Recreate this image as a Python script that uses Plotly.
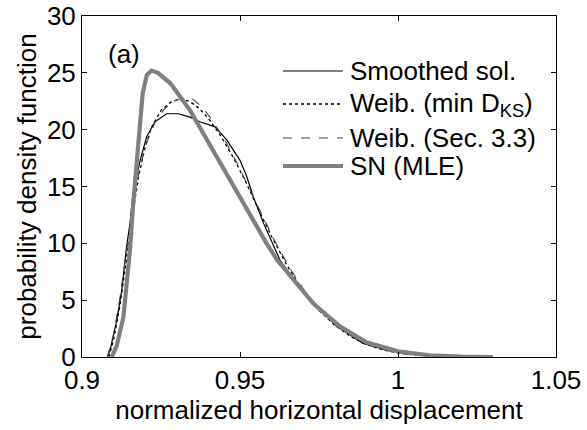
import plotly.graph_objects as go

# ---- data ----
smooth_x = [0.9080, 0.9089, 0.9110, 0.9126, 0.9141, 0.9152, 0.9162, 0.9173, 0.9184, 0.9205,
            0.9231, 0.9268, 0.9305, 0.9342, 0.9373, 0.9421, 0.9458, 0.9500, 0.9521, 0.9542,
            0.9574, 0.9627, 0.9680, 0.9732, 0.9806, 0.9890, 0.9964, 1.0006, 1.0110, 1.0200, 1.0300]
smooth_y = [0.0, 0.6, 3.25, 5.9, 9.7, 11.8, 14.5, 15.9, 17.3, 19.4,
            20.7, 21.4, 21.4, 21.1, 20.7, 20.25, 19.1, 17.3, 15.9, 14.1,
            11.8, 8.5, 6.5, 4.7, 2.7, 1.2, 0.6, 0.45, 0.08, 0.02, 0.0]

weib_ks_x = [0.9085, 0.910, 0.912, 0.914, 0.916, 0.918, 0.920, 0.922, 0.925, 0.928, 0.931,
             0.934, 0.937, 0.940, 0.944, 0.948, 0.952, 0.956, 0.960, 0.965, 0.970, 0.975,
             0.980, 0.985, 0.990, 0.995, 1.000, 1.005, 1.010, 1.020, 1.030]
weib_ks_y = [0.0, 1.5, 4.5, 8.5, 12.5, 16.0, 18.5, 20.2, 21.7, 22.4, 22.7,
             22.5, 21.9, 21.0, 19.4, 17.5, 15.3, 12.9, 10.6, 8.0, 5.8, 4.1,
             2.8, 1.8, 1.1, 0.65, 0.35, 0.18, 0.08, 0.02, 0.0]

weib_sec_x = [0.908, 0.910, 0.912, 0.914, 0.916, 0.918, 0.920, 0.923, 0.926, 0.929, 0.932,
              0.935, 0.938, 0.941, 0.945, 0.949, 0.953, 0.957, 0.961, 0.966, 0.971, 0.976,
              0.981, 0.986, 0.991, 0.996, 1.001, 1.006, 1.012, 1.020, 1.030]
weib_sec_y = [0.0, 2.0, 5.2, 9.2, 13.0, 16.2, 18.5, 20.6, 21.8, 22.5, 22.8,
              22.7, 22.0, 20.9, 19.2, 17.1, 14.8, 12.4, 10.2, 7.7, 5.6, 4.0,
              2.7, 1.75, 1.05, 0.6, 0.32, 0.16, 0.07, 0.02, 0.0]

sn_x = [0.9094, 0.9110, 0.9131, 0.9147, 0.9152, 0.9162, 0.9173, 0.9184, 0.9192, 0.9205,
        0.9220, 0.9240, 0.9279, 0.9342, 0.9395, 0.9447, 0.9468, 0.9521, 0.9584, 0.9616,
        0.9680, 0.9732, 0.9816, 0.9900, 1.0000, 1.0100, 1.0200, 1.0300]
sn_y = [0.0, 1.0, 3.5, 7.5, 9.5, 13.5, 17.0, 20.5, 23.2, 24.8,
        25.2, 25.0, 24.1, 21.7, 19.1, 16.7, 15.6, 13.0, 10.0, 8.6,
        6.4, 4.7, 2.7, 1.3, 0.5, 0.15, 0.03, 0.0]

series_names = ["Smoothed sol.", "Weib. (min D<sub>KS</sub>)", "Weib. (Sec. 3.3)", "SN (MLE)"]
x_ticks = [0.9, 0.95, 1.0, 1.05]
x_ticklabels = ["0.9", "0.95", "1", "1.05"]
y_ticks = [0, 5, 10, 15, 20, 25, 30]

FONT = "Liberation Sans, Arial, Helvetica, sans-serif"
FS = 26

styles = [
    dict(color="black", width=1.2, dash="solid"),
    dict(color="black", width=1.3, dash="dot"),
    dict(color="#444444", width=1.1, dash="dash"),
    dict(color="#808080", width=4.2, dash="solid"),
]
data = [(smooth_x, smooth_y), (weib_ks_x, weib_ks_y), (weib_sec_x, weib_sec_y), (sn_x, sn_y)]

fig = go.Figure()
for (xs, ys), name, st in zip(data, series_names, styles):
    fig.add_trace(go.Scatter(x=xs, y=ys, mode="lines", name=name, line=st, showlegend=False))

# custom legend (MATLAB style, long line samples)
W, H = 587, 430
L, R, T, B = 82, 31, 16, 73
pw, ph = W - L - R, H - T - B
def px2paper(px, py):
    return (px - L) / pw, (H - B - py) / ph

rows_py = [71, 104, 138, 166]
for name, st, py in zip(series_names, styles, rows_py):
    x0, y0 = px2paper(283, py)
    x1, _ = px2paper(343, py)
    fig.add_shape(type="line", xref="paper", yref="paper", x0=x0, x1=x1, y0=y0, y1=y0,
                  line=dict(color=st["color"], width=st["width"], dash=st["dash"]))
    tx, _ = px2paper(348, py)
    fig.add_annotation(xref="paper", yref="paper", x=tx, y=y0, text=name, showarrow=False,
                       xanchor="left", yanchor="middle", font=dict(size=FS, color="black", family=FONT))

ax, ay = px2paper(106, 54)
fig.add_annotation(xref="paper", yref="paper", x=ax, y=ay, text="(a)", showarrow=False,
                   xanchor="left", yanchor="middle", font=dict(size=FS, color="black", family=FONT))

axis_common = dict(showline=True, linecolor="black", linewidth=1, mirror="ticks",
                   ticks="inside", ticklen=5, tickcolor="black", showgrid=False, zeroline=False,
                   tickfont=dict(size=FS, color="black", family=FONT))
fig.update_xaxes(range=[0.9, 1.05], tickvals=x_ticks, ticktext=x_ticklabels,
                 title=dict(text="normalized horizontal displacement", standoff=3,
                            font=dict(size=FS, color="black", family=FONT)), **axis_common)
fig.update_yaxes(range=[0, 30], tickvals=y_ticks,
                 title=dict(text="probability density function", standoff=2,
                            font=dict(size=FS, color="black", family=FONT)), **axis_common)

fig.update_layout(width=W, height=H, margin=dict(l=L, r=R, t=T, b=B, autoexpand=False),
                  paper_bgcolor="white", plot_bgcolor="white", font=dict(family=FONT, color="black"))
fig.write_html("out.html")
